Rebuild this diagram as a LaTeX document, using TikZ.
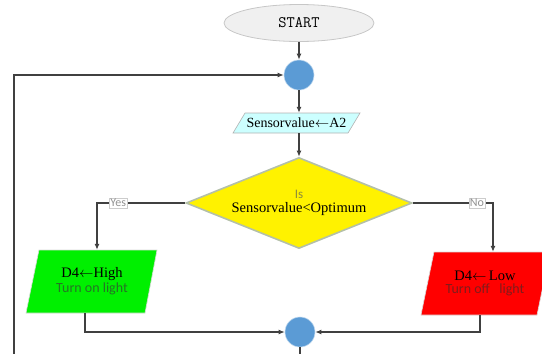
\documentclass[tikz,border=0pt]{standalone}
\usepackage{fontspec}
\setmainfont{Liberation Serif}
\newfontfamily\lblfont{Carlito}
\usetikzlibrary{shapes.geometric,arrows.meta}
\definecolor{linec}{HTML}{404040}
\definecolor{junc}{HTML}{5B9BD5}
\definecolor{cyanf}{HTML}{CCFFFF}
\definecolor{greenf}{HTML}{00F000}
\definecolor{redf}{HTML}{FF0000}
\definecolor{dborder}{HTML}{B4C0A8}
\begin{document}
\begin{tikzpicture}[x=1pt,y=-1pt,
  conn/.style={draw=linec,line width=1.1pt},
  arr/.style={conn,-{Latex[length=6pt,width=5pt]}},
  junction/.style={circle,fill=junc,draw=junc!40!white,line width=0.6pt,minimum size=30pt,inner sep=0pt},
  box/.style={rectangle,inner sep=0pt,align=center},
  branchlbl/.style={fill=white,draw=gray!40,line width=0.5pt,inner sep=1pt,font=\lblfont\fontsize{12}{12}\selectfont,text=gray!85}
]
\useasboundingbox (0,0) rectangle (542,354);
\clip (0,0) rectangle (542,354);

% start
\node[ellipse,fill=black!6,draw=black!22,line width=0.8pt,minimum width=150pt,minimum height=37pt,inner sep=0pt,
  font=\ttfamily\fontsize{16}{16}\selectfont] (start) at (299,23) {START};

\node[junction] (j1) at (299,75) {};

% input parallelogram
\node[box,minimum width=127pt,minimum height=20pt] (sens) at (296.5,123) {};
\fill[cyanf] (233,133) -- (348,133) -- (360,113) -- (245,113) -- cycle;
\draw[black!30,line width=0.6pt] (233,133) -- (348,133) -- (360,113) -- (245,113) -- cycle;
\node[font=\fontsize{14}{14}\selectfont] (senstext) at (sens.center) {Sensorvalue$\leftarrow$A2};

% decision
\node[diamond,aspect=2.48,fill=yellow,draw=dborder,line width=1.6pt,minimum width=226pt,minimum height=91pt,inner sep=0pt,align=center] (dec) at (299,203)
  {{\lblfont\fontsize{13}{13}\selectfont\color[HTML]{8C8C3C}Is}\\[2pt]{\fontsize{14.5}{14.5}\selectfont Sensorvalue<Optimum}};

% green output
\node[box,minimum width=131pt,minimum height=63pt] (green) at (91.5,281.5) {};
\fill[greenf] (26,313) -- (145,313) -- (157,250) -- (39,250) -- cycle;
\draw[black!15,line width=0.6pt] (26,313) -- (145,313) -- (157,250) -- (39,250) -- cycle;
\node[align=center] (greentext) at (92,281) {{\fontsize{14.5}{14.5}\selectfont D4$\leftarrow$High}\\[1pt]{\lblfont\fontsize{14}{14}\selectfont\color[HTML]{267326}Turn on light}};

% red output
\node[box,minimum width=129pt,minimum height=63pt] (red) at (485.5,283.5) {};
\fill[redf] (421,315) -- (537,315) -- (550,252) -- (434,252) -- cycle;
\draw[black!15,line width=0.6pt] (421,315) -- (537,315) -- (550,252) -- (434,252) -- cycle;
\node[align=center] (redtext) at (485,283) {{\fontsize{14.5}{14.5}\selectfont D4$\leftarrow$\,Low}\\[1pt]{\lblfont\fontsize{14}{14}\selectfont\color[HTML]{801C1C}Turn off \ \ light}};

\node[junction] (j2) at (300,332) {};

\coordinate (loopa) at (300,372);
\coordinate (loopb) at (14,372);

% connectors
\draw[arr] (start.south) -- (j1.north);
\draw[arr] (j1.south) -- (sens.north -| j1);
\draw[arr] (sens.south -| j1) -- (dec.north -| j1);
\draw[arr] (dec.west) -| ([xshift=5.5pt]green.north) node[pos=0.38,branchlbl] (yes) {Yes};
\draw[arr] (dec.east) -| ([xshift=7.5pt]red.north) node[pos=0.4,branchlbl] (no) {No};
\draw[arr] ([xshift=-6.5pt]green.south) |- (j2.west);
\draw[arr] ([xshift=-5.5pt]red.south) |- (j2.east);
\draw[arr] (j2.south) -- (loopa) -- (loopb) |- (j1.west);
\end{tikzpicture}
\end{document}
